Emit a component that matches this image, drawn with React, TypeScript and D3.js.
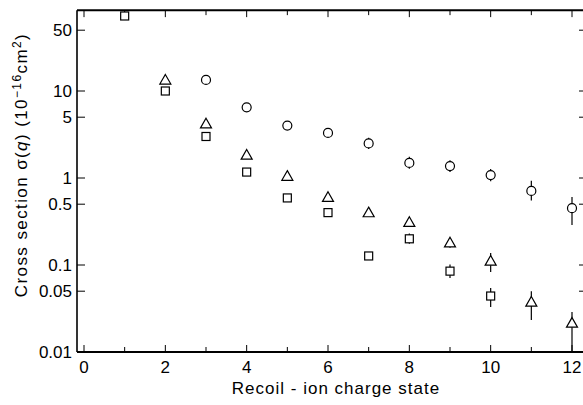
import React from "react";
import * as d3 from "d3";

const chargeStates = [0, 1, 2, 3, 4, 5, 6, 7, 8, 9, 10, 11, 12];
const yTickValues = [50, 10, 5, 1, 0.5, 0.1, 0.05, 0.01];
const yTickLabels = ["50", "10", "5", "1", "0.5", "0.1", "0.05", "0.01"];

// circles
const circleQ = [3, 4, 5, 6, 7, 8, 9, 10, 11, 12];
const circleVal = [13.4, 6.5, 4.0, 3.3, 2.5, 1.49, 1.37, 1.08, 0.71, 0.45];
const circleLo = [null, null, 3.7, 3.05, 2.15, 1.28, 1.17, 0.92, 0.55, 0.288];
const circleHi = [null, null, 4.3, 3.6, 2.9, 1.75, 1.6, 1.27, 0.93, 0.605];

// triangles
const triQ = [2, 3, 4, 5, 6, 7, 8, 9, 10, 11, 12];
const triVal = [13.4, 4.2, 1.84, 1.05, 0.6, 0.4, 0.31, 0.18, 0.111, 0.0376, 0.0215];
const triLo = [null, null, null, null, null, null, null, 0.158, 0.083, 0.0233, 0.01];
const triHi = [null, null, null, null, null, null, null, 0.205, 0.137, 0.05, 0.0288];

// squares
const sqQ = [1, 2, 3, 4, 5, 6, 7, 8, 9, 10];
const sqVal = [72.8, 10, 3.0, 1.17, 0.59, 0.4, 0.127, 0.2, 0.085, 0.044];
const sqLo = [null, null, null, null, null, null, 0.115, 0.175, 0.071, 0.0329];
const sqHi = [null, null, null, null, null, null, 0.14, 0.23, 0.101, 0.0545];

const W = 583;
const H = 405;
const FONT = "'Liberation Sans Narrow', 'Liberation Sans', Arial, sans-serif";

export default function App() {
  const x = d3.scaleLinear().domain([0, 12]).range([84, 572]);
  const y = d3.scaleLog().domain([0.01, 100]).range([352, 4]);
  const left = 77;
  const right = 584;
  const top = y(85);
  const bottom = y(0.01);

  const errBar = (q: number, lo: number | null, hi: number | null, key: string) =>
    lo == null || hi == null ? null : (
      <line key={key} x1={x(q)} x2={x(q)} y1={y(hi)} y2={y(lo)} stroke="#000" strokeWidth={1.2} />
    );

  const triPath = (cx: number, cy: number) => {
    const s = 5.5;
    return `M${cx},${cy - s}L${cx + s},${cy + s * 0.75}L${cx - s},${cy + s * 0.75}Z`;
  };

  return (
    <svg width={W} height={H} style={{ position: "absolute", left: 0, top: 0, background: "#fff" }}>
      <rect x={0} y={0} width={W} height={H} fill="#fff" />
      {/* frame */}
      <line x1={left} x2={right} y1={top} y2={top} stroke="#000" strokeWidth={2} />
      <line x1={left} x2={right} y1={bottom} y2={bottom} stroke="#000" strokeWidth={2} />
      <line x1={left} x2={left} y1={top} y2={bottom} stroke="#000" strokeWidth={1.6} />
      <line x1={right} x2={right} y1={top} y2={bottom} stroke="#000" strokeWidth={1.6} />

      {/* x ticks */}
      {chargeStates.map((q) => (
        <g key={"xt" + q}>
          <line x1={x(q)} x2={x(q)} y1={bottom} y2={bottom - (q % 2 === 0 ? 7 : 5)} stroke="#000" strokeWidth={1} />
          <line x1={x(q)} x2={x(q)} y1={top} y2={top + (q % 2 === 0 ? 7 : 5)} stroke="#000" strokeWidth={1} />
          {q % 2 === 0 && (
            <text x={x(q)} y={373} textAnchor="middle" fontFamily={FONT} fontSize={17}>
              {q}
            </text>
          )}
        </g>
      ))}

      {/* y ticks */}
      {yTickValues.map((v, i) => (
        <g key={"yt" + v}>
          <line x1={left} x2={left + 8} y1={y(v)} y2={y(v)} stroke="#000" strokeWidth={1} />
          <line x1={right} x2={right - 5} y1={y(v)} y2={y(v)} stroke="#000" strokeWidth={1} />
          <text x={72} y={y(v) + 6} textAnchor="end" fontFamily={FONT} fontSize={17}>
            {yTickLabels[i]}
          </text>
        </g>
      ))}

      {/* error bars */}
      {circleQ.map((q, i) => errBar(q, circleLo[i], circleHi[i], "ce" + q))}
      {triQ.map((q, i) => errBar(q, triLo[i], triHi[i], "te" + q))}
      {sqQ.map((q, i) => errBar(q, sqLo[i], sqHi[i], "se" + q))}

      {/* markers */}
      {circleQ.map((q, i) => (
        <circle key={"c" + q} cx={x(q)} cy={y(circleVal[i])} r={4.5} fill="#fff" stroke="#000" strokeWidth={1.2} />
      ))}
      {triQ.map((q, i) => (
        <path key={"t" + q} d={triPath(x(q), y(triVal[i]))} fill="#fff" stroke="#000" strokeWidth={1.2} />
      ))}
      {sqQ.map((q, i) => (
        <rect key={"s" + q} x={x(q) - 4} y={y(sqVal[i]) - 4} width={8} height={8} fill="#fff" stroke="#000" strokeWidth={1.2} />
      ))}

      {/* axis titles */}
      <text x={336} y={394} textAnchor="middle" fontFamily={FONT} fontSize={17} letterSpacing={1}>
        Recoil - ion charge state
      </text>
      <text
        transform="translate(27,165) rotate(-90)"
        textAnchor="middle"
        fontFamily={FONT}
        fontSize={17}
        letterSpacing={1.4}
      >
        Cross section σ(<tspan fontStyle="italic">q</tspan>) (10
        <tspan dy={-6} fontSize={12}>−16</tspan>
        <tspan dy={6}>cm</tspan>
        <tspan dy={-6} fontSize={12}>2</tspan>
        <tspan dy={6}>)</tspan>
      </text>
    </svg>
  );
}
